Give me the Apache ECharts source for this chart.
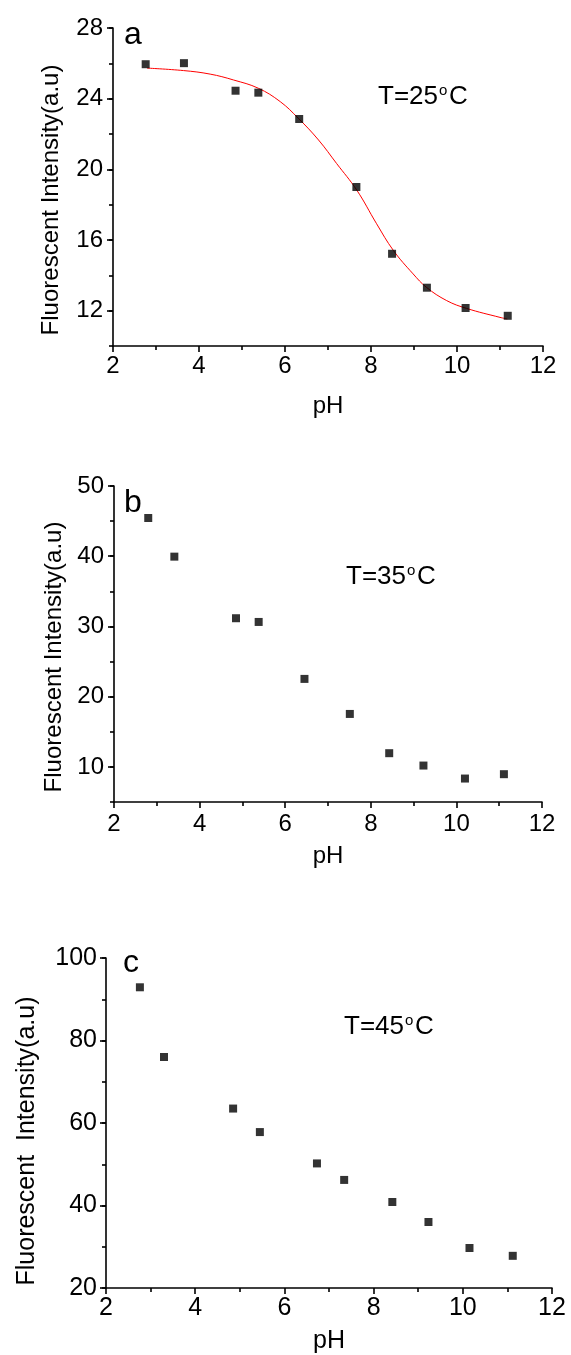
<!DOCTYPE html>
<html>
<head>
<meta charset="utf-8">
<script src="https://cdn.jsdelivr.net/npm/echarts@6/dist/echarts.min.js"></script>
<style>
html,body{margin:0;padding:0;background:#fff;}
#c{width:571px;height:1355px;}
</style>
</head>
<body>
<div id="c"></div>
<script>
// ---- data ----
const xTickLabels = [2, 4, 6, 8, 10, 12];
const yTickLabelsA = [12, 16, 20, 24, 28];
const yTickLabelsB = [10, 20, 30, 40, 50];
const yTickLabelsC = [20, 40, 60, 80, 100];

const phA  = [2.76, 3.65, 4.85, 5.38, 6.33, 7.66, 8.49, 9.30, 10.20, 11.18];
const valA = [25.95, 26.01, 24.45, 24.34, 22.85, 19.00, 15.22, 13.30, 12.15, 11.71];
const fitPhA  = [2.79, 3.64, 4.26, 4.80, 5.38, 5.89, 6.31, 6.78, 7.20, 7.67, 8.13, 8.52, 8.98, 9.29, 9.76, 10.22, 11.00, 11.17];
const fitValA = [25.73, 25.59, 25.39, 25.06, 24.59, 23.83, 22.89, 21.66, 20.33, 18.82, 16.92, 15.41, 14.08, 13.32, 12.57, 12.13, 11.62, 11.53];

const phB  = [2.80, 3.41, 4.85, 5.38, 6.45, 7.51, 8.43, 9.23, 10.20, 11.11];
const valB = [45.44, 39.94, 31.17, 30.64, 22.53, 17.54, 11.95, 10.19, 8.34, 8.96];

const phC  = [2.76, 3.30, 4.85, 5.45, 6.73, 7.34, 8.42, 9.23, 10.15, 11.12];
const valC = [92.9, 76.0, 63.5, 57.8, 50.2, 46.2, 40.85, 36.0, 29.7, 27.8];

const panelLetters = ['a', 'b', 'c'];
const tempTexts = ['25', '35', '45'];
const yNames = ['Fluorescent Intensity(a.u)', 'Fluorescent Intensity(a.u)', 'Fluorescent  Intensity(a.u)'];

// ---- layout ----
const FONT = '"Liberation Sans", Arial, sans-serif';
const panels = [
  {grid:{left:113, top:28, width:430, height:318}, ymin:10, ymax:28, ystep:2, ylabels:yTickLabelsA,
   fs:24, ynameGap:50, ynameShift:26, xnameGap:48, xmargin:8, ymargin:10,
   letter:{left:124, top:19}, temp:{left:378, top:84}},
  {grid:{left:114, top:486, width:428, height:316}, ymin:5, ymax:50, ystep:5, ylabels:yTickLabelsB,
   fs:24, ynameGap:48, ynameShift:26, xnameGap:42, xmargin:10, ymargin:10,
   letter:{left:124, top:487}, temp:{left:346, top:564}},
  {grid:{left:106, top:958, width:446, height:330}, ymin:20, ymax:100, ystep:10, ylabels:yTickLabelsC,
   fs:25, ynameGap:66, ynameShift:36, xnameGap:41, xmargin:8, ymargin:9,
   letter:{left:123, top:947}, temp:{left:344, top:1014}}
];

function ls(){ return {color:'#000', width:1.6}; }
const grids = [], xAxes = [], yAxes = [], series = [], titles = [];

panels.forEach((p, i) => {
  grids.push(Object.assign({}, p.grid));
  xAxes.push({
    type:'value', gridIndex:i, min:2, max:12, interval:2,
    name:'pH', nameLocation:'middle', nameGap:p.xnameGap,
    nameTextStyle:{fontFamily:FONT, fontSize:p.fs, color:'#000'},
    axisLine:{show:true, lineStyle:ls()},
    axisTick:{show:true, length:6, lineStyle:ls()},
    minorTick:{show:true, splitNumber:2, length:4, lineStyle:ls()},
    axisLabel:{show:true, margin:p.xmargin, fontFamily:FONT, fontSize:p.fs, color:'#000'},
    splitLine:{show:false}
  });
  const labelSet = p.ylabels;
  yAxes.push({
    type:'value', gridIndex:i, min:p.ymin, max:p.ymax, interval:p.ystep, position:'left',
    name:yNames[i], nameLocation:'middle', nameGap:p.ynameGap,
    nameTextStyle:{fontFamily:FONT, fontSize:p.fs, color:'#000', padding:[0, p.ynameShift, 0, 0]},
    axisLine:{show:true, lineStyle:ls()},
    axisTick:{show:true, length:4, lineStyle:ls()},
    axisLabel:{show:true, margin:p.ymargin, fontFamily:FONT, fontSize:p.fs, color:'#000',
      formatter: v => (labelSet.indexOf(v) >= 0 ? String(v) : '')},
    splitLine:{show:false}
  });
  // overlay axis: longer ticks at labelled values
  yAxes.push({
    type:'value', gridIndex:i, min:p.ymin, max:p.ymax, position:'left', offset:0,
    axisLine:{show:false},
    axisTick:{show:true, length:6, lineStyle:ls(), customValues:labelSet},
    axisLabel:{show:false},
    splitLine:{show:false}
  });
  titles.push({
    text: panelLetters[i], left:p.letter.left, top:p.letter.top, padding:0,
    textStyle:{fontFamily:FONT, fontSize:32, fontWeight:'normal', color:'#000'}
  });
  titles.push({
    text: 'T=' + tempTexts[i], left:p.temp.left, top:p.temp.top, padding:0,
    textStyle:{fontFamily:FONT, fontSize:26, fontWeight:'normal', color:'#000'}
  });
  titles.push({
    text: 'o', left:p.temp.left + 61, top:p.temp.top - 1, padding:0,
    textStyle:{fontFamily:FONT, fontSize:15, fontWeight:'normal', color:'#000'}
  });
  titles.push({
    text: 'C', left:p.temp.left + 71, top:p.temp.top, padding:0,
    textStyle:{fontFamily:FONT, fontSize:26, fontWeight:'normal', color:'#000'}
  });
});

const yIdx = i => i * 2;
function pts(xs, ys){ return xs.map((x, k) => [x, ys[k]]); }

series.push({type:'line', xAxisIndex:0, yAxisIndex:yIdx(0), data:pts(fitPhA, fitValA), smooth:0.4,
  showSymbol:false, symbol:'none', lineStyle:{color:'#ff0000', width:1}, z:2, silent:true});
[[phA, valA], [phB, valB], [phC, valC]].forEach((d, i) => {
  series.push({type:'scatter', xAxisIndex:i, yAxisIndex:yIdx(i), data:pts(d[0], d[1]),
    symbol:'rect', symbolSize:8, itemStyle:{color:'#000'}, z:3, silent:true});
});

const chart = echarts.init(document.getElementById('c'), null, {renderer:'canvas'});
chart.setOption({
  animation:false,
  backgroundColor:'#fff',
  title:titles,
  grid:grids,
  xAxis:xAxes,
  yAxis:yAxes,
  series:series
});
</script>
</body>
</html>
